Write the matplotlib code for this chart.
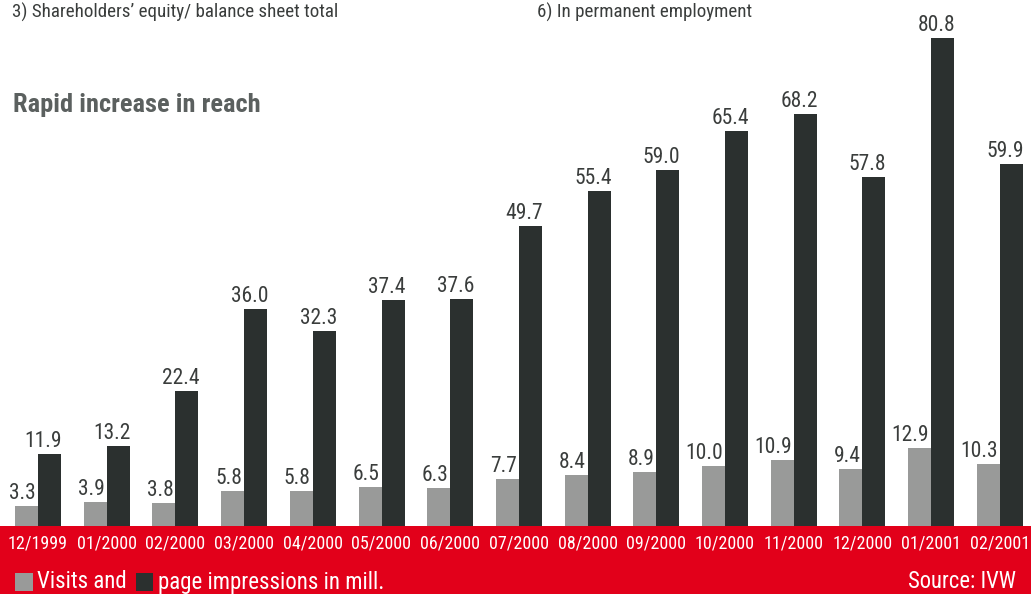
import numpy as np
import matplotlib.pyplot as plt
from matplotlib.patches import Rectangle

months = ["12/1999", "01/2000", "02/2000", "03/2000", "04/2000", "05/2000", "06/2000",
          "07/2000", "08/2000", "09/2000", "10/2000", "11/2000", "12/2000", "01/2001", "02/2001"]
visits = [3.3, 3.9, 3.8, 5.8, 5.8, 6.5, 6.3, 7.7, 8.4, 8.9, 10.0, 10.9, 9.4, 12.9, 10.3]
impressions = [11.9, 13.2, 22.4, 36.0, 32.3, 37.4, 37.6, 49.7, 55.4, 59.0, 65.4, 68.2, 57.8, 80.8, 59.9]

RED = "#e2001a"
LIGHT = "#999a99"
DARK = "#2b302f"
TXT = "#3a3d3c"

plt.rcParams['font.family'] = ['Roboto Condensed', 'Archivo Narrow', 'DejaVu Sans']

W, H = 1031, 594
fig = plt.figure(figsize=(W / 100, H / 100), dpi=100)
band = 68 / H
# red footer band behind everything
fig.patches.append(Rectangle((0, 0), 1, band, transform=fig.transFigure,
                             facecolor=RED, edgecolor="none", zorder=-1))

ax = fig.add_axes([0, band, 1, 1 - band])
ax.set_facecolor("none")
step = 68.7
ax.set_xlim(-38 / step, (W - 38) / step)
ax.set_ylim(0, 526 / 6.04)
ax.axis("off")

x = np.arange(len(months))
bw = 23 / step
ax.bar(x - bw / 2, visits, bw, color=LIGHT, linewidth=0)
ax.bar(x + bw / 2, impressions, bw, color=DARK, linewidth=0)

for xi, v, p in zip(x, visits, impressions):
    # value labels sit right-aligned against the bar's right edge
    ax.annotate(f"{v:.1f}", (xi, v), xytext=(-2, 7), textcoords="offset pixels",
                ha="right", va="baseline", fontsize=15.5, color=TXT)
    ax.annotate(f"{p:.1f}", (xi + bw, p), xytext=(1, 7), textcoords="offset pixels",
                ha="right", va="baseline", fontsize=15.5, color=TXT)
    ax.annotate(months[xi], (xi, 0), xytext=(0, -17), textcoords="offset pixels",
                ha="center", va="center", fontsize=13, color="white", annotation_clip=False)

# legend row inside the red band
fig.patches.append(Rectangle((15 / W, 3 / H), 18 / W, 18 / H, transform=fig.transFigure,
                             facecolor=LIGHT, edgecolor="none", zorder=1))
fig.patches.append(Rectangle((136 / W, 3 / H), 17 / W, 18 / H, transform=fig.transFigure,
                             facecolor=DARK, edgecolor="none", zorder=1))
fig.text(37 / W, 12 / H, "Visits and", fontsize=16.5, color="white", va="center")
fig.text(158 / W, 12 / H, "page impressions in mill.", fontsize=16.5, color="white", va="center")
fig.text(1016 / W, 12 / H, "Source: IVW", fontsize=16.3, color="white", va="center", ha="right")

fig.text(12 / W, 1 - 12 / H, "3) Shareholders\u2019 equity/ balance sheet total", fontsize=13.7,
         color=TXT, va="center")
fig.text(537 / W, 1 - 12 / H, "6) In permanent employment", fontsize=13.7, color=TXT, va="center")
fig.text(13 / W, 1 - 105 / H, "Rapid increase in reach", fontsize=19, fontweight="bold",
         color="#5b605f", va="center")

fig.savefig("out.png", dpi=100)
